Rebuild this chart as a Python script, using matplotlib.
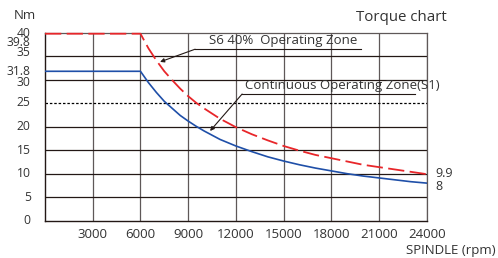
import matplotlib
matplotlib.use('Agg')
import matplotlib.pyplot as plt

plt.rcParams['font.family'] = ['Open Sans', 'DejaVu Sans']

# speed (rpm) and torque (Nm)
speed = [0, 6000, 6500, 7000, 7500, 8000, 8500, 9000, 9500, 10000, 11000, 12000,
         13000, 14000, 15000, 16000, 17000, 18000, 19000, 20000, 21000, 22000,
         23000, 24000]
torque_s6 = [39.8, 39.8, 36.7, 34.1, 31.8, 29.9, 28.1, 26.5, 25.1, 23.9, 21.7,
             19.9, 18.4, 17.1, 15.9, 14.9, 14.0, 13.3, 12.6, 11.9, 11.4, 10.9,
             10.4, 9.9]
torque_s1 = [31.8, 31.8, 29.4, 27.3, 25.4, 23.9, 22.4, 21.2, 20.1, 19.1, 17.3,
             15.9, 14.7, 13.6, 12.7, 11.9, 11.2, 10.6, 10.0, 9.5, 9.1, 8.7,
             8.3, 8.0]

xticks = [3000, 6000, 9000, 12000, 15000, 18000, 21000, 24000]
yticks = [0, 5, 10, 15, 20, 25, 30, 35, 40]
# y labels, with where they sit beside the axis (they are nudged in the original)
ylabels = ['0', '5', '10', '15', '20', '25', '30', '31.8', '35', '39.8', '40']
ylabel_pos = [0, 5, 10, 15, 20, 25.2, 29.5, 31.85, 35.7, 38.0, 39.9]

txt = '#333333'
fs = 9.5
fig = plt.figure(figsize=(4.98, 2.58), dpi=100)
ax = fig.add_axes([0.0904, 0.1446, 0.857 - 0.0904, 0.873 - 0.1446])
ax.set_xlim(0, 24000)
ax.set_ylim(0, 40)

# grid
for x in xticks:
    ax.axvline(x, color='#5f5858', lw=0.9, zorder=1)
for y in yticks[1:-1]:
    if y == 25:
        ax.axhline(y, color='black', lw=0.9, ls=(0, (2, 1.5)), zorder=1)
    else:
        ax.axhline(y, color='#231815', lw=0.9, zorder=1)

for s in ['top', 'right']:
    ax.spines[s].set_color('#5f5858')
    ax.spines[s].set_linewidth(0.9)
for s in ['left', 'bottom']:
    ax.spines[s].set_color('#231815')
    ax.spines[s].set_linewidth(1.0)

ax.plot(speed, torque_s1, color='#1f4fa8', lw=1.2, zorder=3)
ax.plot(speed, torque_s6, color='#e8262a', lw=1.3, ls=(0, (9, 3)), zorder=4,
        clip_on=False)

ax.set_xticks(xticks)
ax.set_xticklabels([str(v) for v in xticks])
ax.set_yticks([])
ax.tick_params(length=0, labelsize=fs, colors=txt)
ax.tick_params(axis='x', pad=5)
for lab, pos in zip(ylabels, ylabel_pos):
    ax.text(-900, pos, lab, ha='right', va='center', fontsize=8.7, color=txt)

ax.text(24530, 10.1, '9.9', ha='left', va='center', fontsize=9, color=txt)
ax.text(24530, 7.2, '8', ha='left', va='center', fontsize=9, color=txt)

fig.text(0.028, 0.94, 'Nm', fontsize=fs, color=txt, ha='left', va='center')
fig.text(0.898, 0.932, 'Torque chart', fontsize=10.8, color=txt, ha='right', va='center')
fig.text(0.995, 0.03, 'SPINDLE (rpm)', fontsize=fs, color=txt, ha='right', va='center')

# annotations
ax.plot([9434, 19874], [36.5, 36.5], color='#231815', lw=0.8, zorder=5)
ax.annotate('', xy=(7233, 33.8), xytext=(9434, 36.5),
            arrowprops=dict(arrowstyle='-|>', color='#231815', lw=0.8,
                            mutation_scale=6, shrinkA=0, shrinkB=0), zorder=5)
ax.text(10300, 38.3, 'S6 40%  Operating Zone', fontsize=fs, color=txt,
        ha='left', va='center', zorder=5)

ax.plot([12390, 23270], [26.96, 26.96], color='#231815', lw=0.8, zorder=5)
ax.annotate('', xy=(10377, 19.1), xytext=(12390, 26.96),
            arrowprops=dict(arrowstyle='-|>', color='#231815', lw=0.8,
                            mutation_scale=6, shrinkA=0, shrinkB=0), zorder=5)
ax.text(12600, 28.8, 'Continuous Operating Zone(S1)', fontsize=fs, color=txt,
        ha='left', va='center', zorder=5)

fig.savefig('out.png', dpi=100)
